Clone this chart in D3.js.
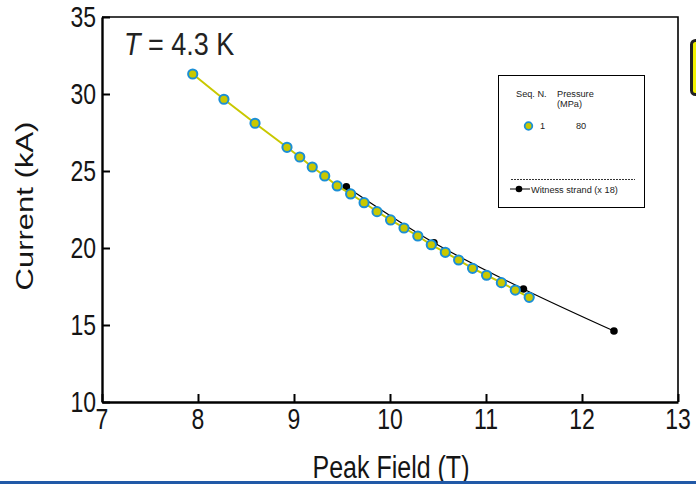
<!DOCTYPE html>
<html>
<head>
<meta charset="utf-8">
<script src="https://cdn.jsdelivr.net/npm/d3@7"></script>
<style>
  html, body { margin: 0; padding: 0; background: #fff; }
  svg { display: block; font-family: "Liberation Sans", Arial, sans-serif; }
</style>
</head>
<body>
<svg id="chart" width="696" height="484"></svg>
<script>
// Sample (Seq. N. 1, 80 MPa): peak field (T) vs. critical current (kA)
const sampleField   = [7.945, 8.27, 8.594, 8.927, 9.06, 9.19, 9.32, 9.45, 9.59, 9.73, 9.865,
                       10.006, 10.146, 10.29, 10.43, 10.576, 10.715, 10.86, 11.006, 11.16, 11.305, 11.45];
const sampleCurrent = [31.3, 29.66, 28.10, 26.54, 25.91, 25.26, 24.68, 24.03, 23.51, 22.94, 22.36,
                       21.82, 21.30, 20.78, 20.21, 19.72, 19.22, 18.68, 18.23, 17.75, 17.27, 16.80];

// Witness strand scaled by 18 strands
const witnessField   = [9.545, 10.458, 11.39, 12.333];
const witnessCurrent = [23.98, 20.34, 17.34, 14.61];

const xTicks = [7, 8, 9, 10, 11, 12, 13];
const yTicks = [10, 15, 20, 25, 30, 35];

const svg = d3.select("#chart");
const x = d3.scaleLinear().domain([7, 13]).range([102, 678]);
const y = d3.scaleLinear().domain([10, 35]).range([402, 17]);

const sample = sampleField.map((f, i) => ({ f, c: sampleCurrent[i] }));
const witness = witnessField.map((f, i) => ({ f, c: witnessCurrent[i] }));

const yellow = "#c9c800";
const blue = "#1b8fd6";
const ink = "#151515";
const stretch = 1.26;   // tall lettering of the axis text

// Frame: top and right edges
svg.append("path")
  .attr("d", `M${x(7)},${y(35)}H${x(13)}V${y(10)}`)
  .attr("fill", "none").attr("stroke", "#000").attr("stroke-width", 1.6);

// Bottom axis, ticks pointing inward
const xAxis = svg.append("g").attr("transform", `translate(0,${y(10)})`)
  .call(d3.axisBottom(x).tickValues(xTicks).tickSize(-8).tickFormat("").tickSizeOuter(0));
xAxis.select(".domain").attr("stroke-width", 2.4);
xAxis.selectAll(".tick line").attr("stroke-width", 2);

// Left axis, ticks pointing inward
const yAxis = svg.append("g").attr("transform", `translate(${x(7)},0)`)
  .call(d3.axisLeft(y).tickValues(yTicks).tickSize(-8).tickFormat("").tickSizeOuter(0));
yAxis.select(".domain").attr("stroke-width", 2.4);
yAxis.selectAll(".tick line").attr("stroke-width", 2);

// Tick labels
const fmt = d3.format("d");
svg.append("g").selectAll("text").data(xTicks).join("text")
  .attr("transform", d => `translate(${x(d)},429) scale(1,${stretch})`)
  .attr("text-anchor", "middle").attr("font-size", 23).attr("fill", ink).text(fmt);
svg.append("g").selectAll("text").data(yTicks).join("text")
  .attr("transform", d => `translate(96,${y(d) + 10}) scale(1,${stretch})`)
  .attr("text-anchor", "end").attr("font-size", 23).attr("fill", ink).text(fmt);

// Axis titles
svg.append("text").attr("transform", `translate(391,478) scale(1,${stretch})`)
  .attr("text-anchor", "middle").attr("font-size", 25).attr("fill", ink).text("Peak Field (T)");
svg.append("text").attr("transform", `translate(33,206) rotate(-90) scale(1.32,1)`)
  .attr("text-anchor", "middle").attr("font-size", 23.5).attr("fill", ink).text("Current (kA)");

// Temperature annotation
const tLabel = svg.append("text").attr("transform", "translate(124,55) scale(1,1.15)")
  .attr("font-size", 27).attr("fill", "#222");
tLabel.append("tspan").attr("font-style", "italic").text("T");
tLabel.append("tspan").text(" = 4.3 K");

// Witness strand curve
svg.append("path").datum(witness)
  .attr("d", d3.line().x(d => x(d.f)).y(d => y(d.c)).curve(d3.curveCatmullRom))
  .attr("fill", "none").attr("stroke", "#000").attr("stroke-width", 1.2);
svg.append("g").selectAll("circle").data(witness).join("circle")
  .attr("cx", d => x(d.f)).attr("cy", d => y(d.c)).attr("r", 3.8).attr("fill", "#000");

// Sample curve and markers
svg.append("path").datum(sample)
  .attr("d", d3.line().x(d => x(d.f)).y(d => y(d.c)))
  .attr("fill", "none").attr("stroke", yellow).attr("stroke-width", 2);
svg.append("g").selectAll("circle").data(sample).join("circle")
  .attr("cx", d => x(d.f)).attr("cy", d => y(d.c)).attr("r", 4.6)
  .attr("fill", yellow).attr("stroke", blue).attr("stroke-width", 2);

// Legend
const lg = svg.append("g").attr("font-size", 9.2).attr("fill", "#222");
lg.append("rect").attr("x", 498.5).attr("y", 75.5).attr("width", 146).attr("height", 132)
  .attr("fill", "#fff").attr("stroke", "#000").attr("stroke-width", 1);
lg.append("text").attr("x", 516).attr("y", 97).text("Seq. N.");
lg.append("text").attr("x", 557).attr("y", 97).text("Pressure");
lg.append("text").attr("x", 557).attr("y", 107).text("(MPa)");
lg.append("circle").attr("cx", 528.5).attr("cy", 126).attr("r", 3.8)
  .attr("fill", yellow).attr("stroke", blue).attr("stroke-width", 1.8);
lg.append("text").attr("x", 540).attr("y", 129).text("1");
lg.append("text").attr("x", 576).attr("y", 129).text("80");
lg.append("line").attr("x1", 511).attr("x2", 635).attr("y1", 179.5).attr("y2", 179.5)
  .attr("stroke", "#000").attr("stroke-width", 0.8).attr("stroke-dasharray", "2,1");
lg.append("line").attr("x1", 510).attr("x2", 530).attr("y1", 189).attr("y2", 189)
  .attr("stroke", "#000").attr("stroke-width", 1);
lg.append("circle").attr("cx", 519).attr("cy", 189).attr("r", 3.3).attr("fill", "#000");
lg.append("text").attr("x", 531).attr("y", 192.5).text("Witness strand (x 18)");

// Partially visible boxed label at the right edge
svg.append("rect").attr("x", 691.5).attr("y", 40.5).attr("width", 30).attr("height", 54).attr("rx", 4)
  .attr("fill", "#f2f200").attr("stroke", "#222").attr("stroke-width", 3);

// Bottom rule
svg.append("rect").attr("x", 0).attr("y", 481).attr("width", 696).attr("height", 3).attr("fill", "#2159a7");
</script>
</body>
</html>
